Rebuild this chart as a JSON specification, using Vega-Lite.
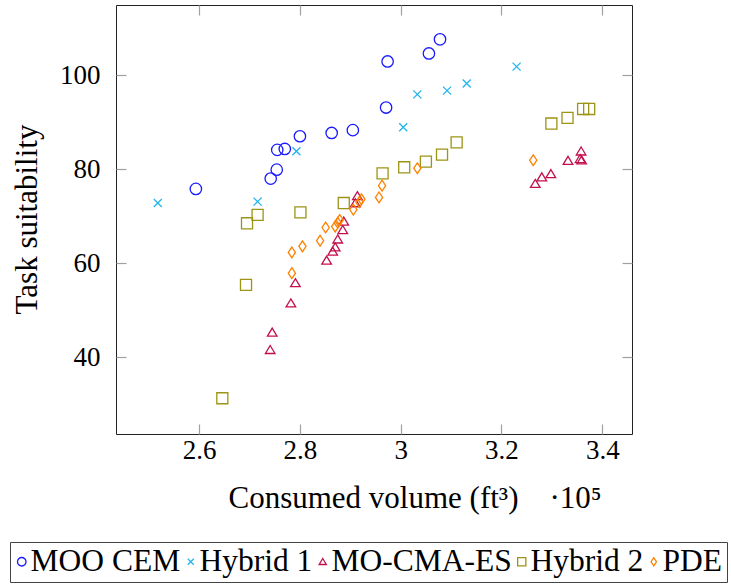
{
  "$schema": "https://vega.github.io/schema/vega-lite/v6.json",
  "autosize": "none",
  "padding": {"left": 116, "top": 5, "right": 99, "bottom": 153},
  "width": 516,
  "height": 429,
  "config": {
    "view": {"stroke": "#222222", "strokeWidth": 1},
    "axis": {
      "grid": false,
      "domain": false,
      "labelFontSize": 27,
      "titleFontSize": 31,
      "titleFontWeight": "normal",
      "labelColor": "#000000",
      "titleColor": "#000000",
      "tickColor": "#a0a0a0",
      "tickWidth": 1.2,
      "tickSize": -10
    }
  },
  "data": {
    "values": [
      {"method": "MOO CEM", "volume": 259350, "suitability": 75.8},
      {"method": "MOO CEM", "volume": 274200, "suitability": 78.0},
      {"method": "MOO CEM", "volume": 275400, "suitability": 79.9},
      {"method": "MOO CEM", "volume": 275500, "suitability": 84.1},
      {"method": "MOO CEM", "volume": 277000, "suitability": 84.3},
      {"method": "MOO CEM", "volume": 280000, "suitability": 87.0},
      {"method": "MOO CEM", "volume": 286300, "suitability": 87.7},
      {"method": "MOO CEM", "volume": 290500, "suitability": 88.3},
      {"method": "MOO CEM", "volume": 297400, "suitability": 102.9},
      {"method": "MOO CEM", "volume": 297100, "suitability": 93.1},
      {"method": "MOO CEM", "volume": 305600, "suitability": 104.6},
      {"method": "MOO CEM", "volume": 307800, "suitability": 107.6},
      {"method": "Hybrid 1", "volume": 251800, "suitability": 72.8},
      {"method": "Hybrid 1", "volume": 271600, "suitability": 73.1},
      {"method": "Hybrid 1", "volume": 279300, "suitability": 83.8},
      {"method": "Hybrid 1", "volume": 300500, "suitability": 88.9},
      {"method": "Hybrid 1", "volume": 303300, "suitability": 95.9},
      {"method": "Hybrid 1", "volume": 309200, "suitability": 96.7},
      {"method": "Hybrid 1", "volume": 313100, "suitability": 98.2},
      {"method": "Hybrid 1", "volume": 323000, "suitability": 101.8},
      {"method": "MO-CMA-ES", "volume": 274100, "suitability": 41.6},
      {"method": "MO-CMA-ES", "volume": 274500, "suitability": 45.3},
      {"method": "MO-CMA-ES", "volume": 278200, "suitability": 51.5},
      {"method": "MO-CMA-ES", "volume": 279100, "suitability": 55.8},
      {"method": "MO-CMA-ES", "volume": 285300, "suitability": 60.6},
      {"method": "MO-CMA-ES", "volume": 286500, "suitability": 62.5},
      {"method": "MO-CMA-ES", "volume": 287000, "suitability": 63.4},
      {"method": "MO-CMA-ES", "volume": 287500, "suitability": 65.1},
      {"method": "MO-CMA-ES", "volume": 288500, "suitability": 67.1},
      {"method": "MO-CMA-ES", "volume": 288700, "suitability": 68.9},
      {"method": "MO-CMA-ES", "volume": 291000, "suitability": 72.8},
      {"method": "MO-CMA-ES", "volume": 291400, "suitability": 74.3},
      {"method": "MO-CMA-ES", "volume": 326700, "suitability": 76.9},
      {"method": "MO-CMA-ES", "volume": 328000, "suitability": 78.3},
      {"method": "MO-CMA-ES", "volume": 329800, "suitability": 79.0},
      {"method": "MO-CMA-ES", "volume": 333200, "suitability": 81.8},
      {"method": "MO-CMA-ES", "volume": 335800, "suitability": 83.8},
      {"method": "MO-CMA-ES", "volume": 335600, "suitability": 82.2},
      {"method": "MO-CMA-ES", "volume": 335900, "suitability": 81.9},
      {"method": "Hybrid 2", "volume": 264600, "suitability": 31.3},
      {"method": "Hybrid 2", "volume": 269300, "suitability": 55.4},
      {"method": "Hybrid 2", "volume": 269500, "suitability": 68.5},
      {"method": "Hybrid 2", "volume": 271600, "suitability": 70.3},
      {"method": "Hybrid 2", "volume": 280100, "suitability": 70.8},
      {"method": "Hybrid 2", "volume": 288700, "suitability": 72.8},
      {"method": "Hybrid 2", "volume": 296400, "suitability": 79.1},
      {"method": "Hybrid 2", "volume": 300700, "suitability": 80.4},
      {"method": "Hybrid 2", "volume": 305000, "suitability": 81.6},
      {"method": "Hybrid 2", "volume": 308200, "suitability": 83.1},
      {"method": "Hybrid 2", "volume": 311100, "suitability": 85.7},
      {"method": "Hybrid 2", "volume": 329900, "suitability": 89.7},
      {"method": "Hybrid 2", "volume": 333100, "suitability": 90.9},
      {"method": "Hybrid 2", "volume": 336200, "suitability": 92.8},
      {"method": "Hybrid 2", "volume": 337400, "suitability": 92.8},
      {"method": "PDE", "volume": 278400, "suitability": 57.9},
      {"method": "PDE", "volume": 278400, "suitability": 62.3},
      {"method": "PDE", "volume": 280500, "suitability": 63.6},
      {"method": "PDE", "volume": 284000, "suitability": 64.8},
      {"method": "PDE", "volume": 285100, "suitability": 67.6},
      {"method": "PDE", "volume": 287000, "suitability": 67.8},
      {"method": "PDE", "volume": 287500, "suitability": 68.6},
      {"method": "PDE", "volume": 287900, "suitability": 69.2},
      {"method": "PDE", "volume": 290600, "suitability": 71.4},
      {"method": "PDE", "volume": 291800, "suitability": 73.0},
      {"method": "PDE", "volume": 292200, "suitability": 73.6},
      {"method": "PDE", "volume": 295700, "suitability": 74.0},
      {"method": "PDE", "volume": 296300, "suitability": 76.5},
      {"method": "PDE", "volume": 303300, "suitability": 80.2},
      {"method": "PDE", "volume": 326300, "suitability": 81.9}
    ]
  },
  "layer": [
    {
      "mark": {"type": "point", "filled": false, "strokeWidth": 1.3, "size": 144, "opacity": 1},
      "encoding": {
        "x": {
          "field": "volume", "type": "quantitative",
          "scale": {"domain": [243500, 345900], "nice": false, "zero": false},
          "axis": {
            "orient": "bottom",
            "values": [260000, 280000, 300000, 320000, 340000],
            "labelExpr": "datum.value / 100000",
            "labelFont": "Liberation Serif",
            "labelFontSize": 27,
            "labelPadding": 13,
            "title": "Consumed volume (ft³)\u2003·10⁵",
            "titleFont": "Liberation Serif",
            "titleAlign": "left",
            "titleBaseline": "alphabetic",
            "titleX": 112,
            "titleY": 73
          }
        },
        "y": {
          "field": "suitability", "type": "quantitative",
          "scale": {"domain": [23.7, 114.9], "nice": false, "zero": false},
          "axis": {
            "orient": "left",
            "values": [40, 60, 80, 100],
            "labelFont": "Liberation Serif",
            "labelFontSize": 27,
            "labelPadding": 26,
            "title": "Task suitability",
            "titleFont": "Liberation Serif",
            "titleAlign": "center",
            "titleBaseline": "alphabetic",
            "titleAngle": -90,
            "titleX": -80,
            "titleY": 214
          }
        },
        "color": {
          "field": "method", "type": "nominal",
          "scale": {
            "domain": ["MOO CEM", "Hybrid 1", "MO-CMA-ES", "Hybrid 2", "PDE"],
            "range": ["#1a1aff", "#22b4ee", "#c3104a", "#9c9414", "#ff8000"]
          },
          "legend": {
            "orient": "none",
            "legendX": -106,
            "legendY": 537,
            "direction": "horizontal",
            "columns": 5,
            "gridAlign": "none",
            "title": null,
            "strokeColor": "#444444",
            "fillColor": "#ffffff",
            "padding": 4,
            "symbolSize": 80,
            "symbolStrokeWidth": 1.3,
            "symbolOffset": -8,
            "labelOffset": -7,
            "columnPadding": 2,
            "labelLimit": 0,
            "labelFont": "Liberation Serif",
            "labelFontSize": 31.5,
            "labelColor": "#000000",
            "encode": {
              "symbols": {"update": {"size": {"value": 80}}}
            }
          }
        },
        "shape": {
          "field": "method", "type": "nominal",
          "scale": {
            "domain": ["MOO CEM", "Hybrid 1", "MO-CMA-ES", "Hybrid 2", "PDE"],
            "range": [
              "M0.95,0A0.95,0.95,0,1,1,-0.95,0A0.95,0.95,0,1,1,0.95,0Z",
              "M-0.67,-0.67L0.67,0.67M-0.67,0.67L0.67,-0.67",
              "M0,-0.72L0.8,0.62L-0.8,0.62Z",
              "M-0.92,-0.92L0.92,-0.92L0.92,0.92L-0.92,0.92Z",
              "M0,-0.9L0.6,0L0,0.9L-0.6,0Z"
            ]
          }
        }
      }
    },
    {
      "mark": {"type": "point", "opacity": 0},
      "encoding": {
        "x": {
          "field": "volume", "type": "quantitative",
          "scale": {"domain": [243500, 345900], "nice": false, "zero": false},
          "axis": {"orient": "top", "values": [260000, 280000, 300000, 320000, 340000], "labels": false, "title": null}
        },
        "y": {
          "field": "suitability", "type": "quantitative",
          "scale": {"domain": [23.7, 114.9], "nice": false, "zero": false},
          "axis": {"orient": "right", "values": [40, 60, 80, 100], "labels": false, "title": null}
        }
      }
    }
  ],
  "resolve": {
    "scale": {"x": "independent", "y": "independent"},
    "axis": {"x": "independent", "y": "independent"}
  }
}
